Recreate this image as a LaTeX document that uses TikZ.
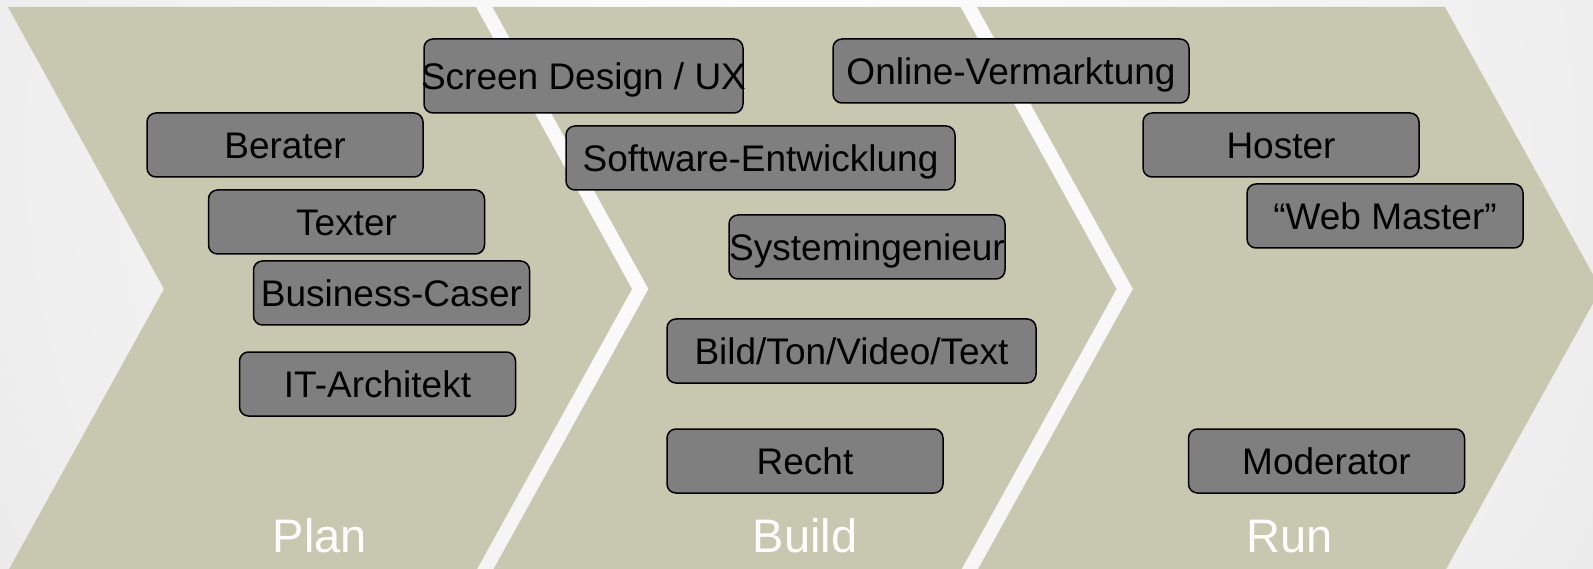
\documentclass[tikz,border=0pt]{standalone}
\usepackage{fontspec}
\setmainfont{Liberation Sans}
\definecolor{chev}{RGB}{200,200,177}
\definecolor{boxgray}{RGB}{127,127,127}
\begin{document}
\begin{tikzpicture}[x=1pt,y=-1pt,
  role/.style={draw=black, line width=1.5pt, fill=boxgray, rounded corners=9pt,
    inner sep=0pt, text height=26.5pt, text depth=0pt,
    font=\fontsize{37}{40}\selectfont, text=black},
  rolestd/.style={role, minimum width=276pt, minimum height=64pt},
  phase/.style={font=\fontsize{47}{50}\selectfont, text=white, anchor=base, inner sep=0pt}]
\useasboundingbox (0,0) rectangle (1593,569);
\begin{scope}
  \clip (0,0) rectangle (1593,569);
  \shade[inner color=white, outer color=gray!30] (800,150) circle (1800);
  \foreach \dx in {0,484.5,969}{
    \fill[chev, xshift=\dx pt] (8,7) -- (476,7) -- (632,289) -- (476,571) -- (8,571) -- (164,289) -- cycle;
  }
\end{scope}
% Plan
\node[rolestd] (berater) at (285,145) {\makebox[0pt]{Berater}};
\node[rolestd] (texter) at (346.5,222) {\makebox[0pt]{Texter}};
\node[rolestd] (business) at (391.5,293) {\makebox[0pt]{Business-Caser}};
\node[rolestd] (itarch) at (377.5,384) {\makebox[0pt]{IT-Architekt}};
% Build
\node[role, minimum width=389pt, minimum height=64pt] (software) at (760.5,158) {\makebox[0pt]{Software-Entwicklung}};
\node[rolestd] (system) at (867,247) {\makebox[0pt]{Systemingenieur}};
\node[role, minimum width=369pt, minimum height=64pt] (bild) at (851.5,351) {\makebox[0pt]{Bild/Ton/Video/Text}};
\node[rolestd] (recht) at (805,461) {\makebox[0pt]{Recht}};
\node[role, minimum width=319pt, minimum height=74pt] (screen) at (583.5,76) {\makebox[0pt]{Screen Design / UX}};
\node[role, minimum width=356pt, minimum height=64pt] (online) at (1011,71) {\makebox[0pt]{Online-Vermarktung}};
% Run
\node[rolestd] (hoster) at (1281,145) {\makebox[0pt]{Hoster}};
\node[rolestd] (webmaster) at (1385,216) {\makebox[0pt]{“Web Master”}};
\node[rolestd] (moderator) at (1326.5,461) {\makebox[0pt]{Moderator}};
% phase labels
\node[phase] (plan) at (320,552) {Plan};
\node[phase] (build) at (805,552) {Build};
\node[phase] (run) at (1290,552) {Run};
\end{tikzpicture}
\end{document}
